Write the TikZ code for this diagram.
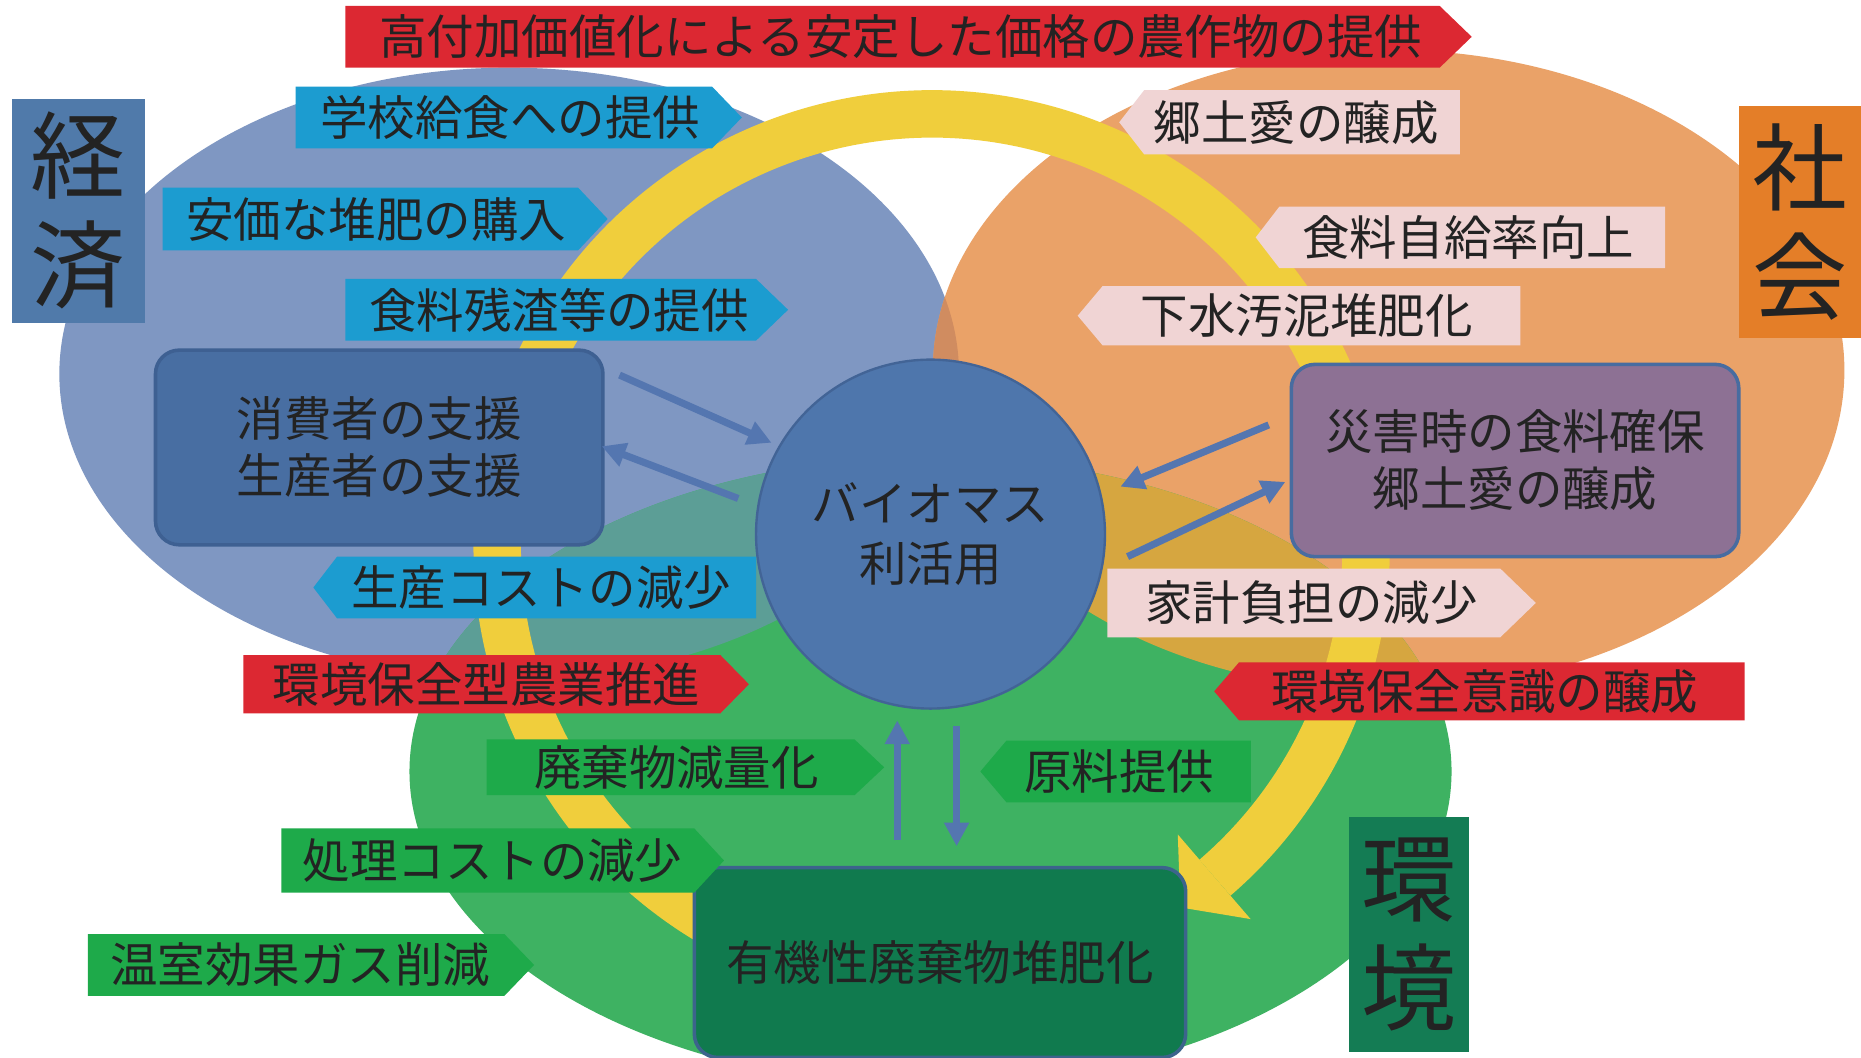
\documentclass[tikz,border=0pt]{standalone}
\usepackage{fontspec}
\setmainfont{Noto Sans CJK JP}
\usetikzlibrary{arrows.meta,calc}
\definecolor{cBlue}{RGB}{127,151,194}
\definecolor{cOrange}{RGB}{234,162,104}
\definecolor{cGreen}{RGB}{62,178,98}
\definecolor{cTeal}{RGB}{92,158,150}
\definecolor{cOchre}{RGB}{214,166,64}
\definecolor{cBO}{RGB}{208,140,96}
\definecolor{cYellow}{RGB}{240,206,60}
\definecolor{cCirc}{RGB}{78,118,172}
\definecolor{cCircB}{RGB}{66,100,150}
\definecolor{cCons}{RGB}{72,110,162}
\definecolor{cConsB}{RGB}{62,96,146}
\definecolor{cSai}{RGB}{141,113,148}
\definecolor{cSaiB}{RGB}{72,108,160}
\definecolor{cYuki}{RGB}{16,122,78}
\definecolor{cYukiB}{RGB}{60,100,140}
\definecolor{cLabE}{RGB}{80,122,170}
\definecolor{cLabS}{RGB}{228,126,40}
\definecolor{cLabK}{RGB}{20,124,84}
\definecolor{bBlue}{RGB}{28,156,208}
\definecolor{bRed}{RGB}{220,40,50}
\definecolor{bPink}{RGB}{240,212,212}
\definecolor{bGreen}{RGB}{30,170,74}
\definecolor{cArr}{RGB}{84,118,176}
\definecolor{txt}{RGB}{35,35,35}
\tikzset{
  btext/.style={font=\fontsize{20}{24}\selectfont, text=txt, inner sep=0pt},
  rbox/.style={rounded corners=10pt, line width=1.5pt, inner sep=0pt, align=center,
    font=\fontsize{20}{24}\selectfont, text=txt},
  biglab/.style={inner sep=0pt, align=center, font=\fontsize{40}{46}\selectfont, text=txt},
  conn/.style={draw=cArr, line width=3pt, -{Triangle[length=10pt,width=10pt]}}
}
\newcommand\bnR[9]{%
  \fill[#7] (#2,#5) -- (#3,#5) -- (#4,{(#5+#6)/2}) -- (#3,#6) -- (#2,#6) -- cycle;
  \node[btext] (#1) at (#8,{(#5+#6)/2}) {#9};}
\newcommand\bnL[9]{%
  \fill[#7] (#4,{(#5+#6)/2}) -- (#2,#5) -- (#3,#5) -- (#3,#6) -- (#2,#6) -- cycle;
  \node[btext] (#1) at (#8,{(#5+#6)/2}) {#9};}
\begin{document}
\begin{tikzpicture}[x=0.5pt,y=-0.5pt]
\useasboundingbox (0,0) rectangle (1568,891);
\fill[white] (0,0) rectangle (1568,891);
% --- ellipses ---
\def\ElB{(429,315) ellipse [x radius=379, y radius=258]}
\def\ElO{(1170,312) ellipse [x radius=384, y radius=270]}
\def\ElG{(784,650) ellipse [x radius=439, y radius=265]}
\fill[cBlue] \ElB;
\fill[cOrange] \ElO;
\begin{scope}\clip \ElB; \fill[cBO] \ElO; \end{scope}
\fill[cGreen] \ElG;
\begin{scope}\clip \ElB; \fill[cTeal] \ElG; \end{scope}
\begin{scope}\clip \ElO; \fill[cOchre] \ElG; \end{scope}
% --- yellow ring arrow ---
\coordinate (rc) at (785,462);
\draw[cYellow, line width=20pt] ($(rc)+(118:366)$) arc[start angle=118, end angle=409.3, radius=366];
\fill[cYellow] ($(rc)+(49.3:412)$) -- ($(rc)+(55.3:368)$) -- ($(rc)+(49.3:318)$) -- cycle;
% --- central circle ---
\node[circle, fill=cCirc, draw=cCircB, line width=1pt, minimum size=147pt, inner sep=0pt,
  align=center, font=\fontsize{20}{25}\selectfont, text=txt] (bio) at (784,450) {バイオマス\\利活用};
% --- rounded boxes ---
\node[rbox, fill=cCons, draw=cConsB, minimum width=188.5pt, minimum height=82pt] (cons) at (319.5,377) {消費者の支援\\生産者の支援};
\node[rbox, fill=cSai, draw=cSaiB, minimum width=188.5pt, minimum height=81pt] (sai) at (1276.5,388) {災害時の食料確保\\郷土愛の醸成};
\node[rbox, fill=cYuki, draw=cYukiB, minimum width=207pt, minimum height=80pt] (yuki) at (792,811) {有機性廃棄物堆肥化};
% --- banners ---
\bnR{b1}{291}{1213}{1240}{5}{57}{bRed}{759}{高付加価値化による安定した価格の農作物の提供}
\bnR{b2}{249}{600}{625}{73}{125}{bBlue}{430}{学校給食への提供}
\bnR{b3}{137}{487}{512}{158}{211}{bBlue}{317}{安価な堆肥の購入}
\bnR{b4}{291}{637}{664}{235}{287}{bBlue}{471}{食料残渣等の提供}
\bnL{b5}{284}{637}{264}{469}{521}{bBlue}{456}{生産コストの減少}
\bnL{p1}{964}{1230}{943}{76}{130}{bPink}{1092}{郷土愛の醸成}
\bnL{p2}{1078}{1403}{1058}{174}{226}{bPink}{1237}{食料自給率向上}
\bnL{p3}{929}{1281}{908}{241}{291}{bPink}{1101}{下水汚泥堆肥化}
\bnR{p4}{933}{1264}{1294}{479}{537}{bPink}{1105}{家計負担の減少}
\bnR{r1}{205}{607}{631}{552}{601}{bRed}{410}{環境保全型農業推進}
\bnL{r2}{1044}{1470}{1023}{558}{607}{bRed}{1251}{環境保全意識の醸成}
\bnR{g1}{410}{720}{745}{623}{670}{bGreen}{570}{廃棄物減量化}
\bnL{g2}{848}{1054}{826}{624}{676}{bGreen}{943}{原料提供}
\bnR{g3}{237}{585}{610}{698}{752}{bGreen}{415}{処理コストの減少}
\bnR{g4}{74}{425}{450}{787}{839}{bGreen}{253}{温室効果ガス削減}
% --- category labels ---
\node[biglab, fill=cLabE, minimum width=56pt, minimum height=94.5pt] (keizai) at (66,177.5) {経\\済};
\node[biglab, fill=cLabS, minimum width=51.5pt, minimum height=98pt] (shakai) at (1516.5,187) {社\\会};
\node[biglab, fill=cLabK, minimum width=50.5pt, minimum height=99pt] (kankyo) at (1187.5,787) {環\\境};
% --- small arrows ---
\coordinate (a1s) at (522,316); \coordinate (a1e) at (650,373);
\coordinate (a2s) at (622,420); \coordinate (a2e) at (507,376);
\coordinate (a3s) at (1069,358); \coordinate (a3e) at (944,410);
\coordinate (a4s) at (950,469); \coordinate (a4e) at (1083,406);
\coordinate (a5s) at (756,708); \coordinate (a5e) at (756,607);
\coordinate (a6s) at (806,612); \coordinate (a6e) at (806,713);
\draw[conn] (a1s) -- (a1e);
\draw[conn] (a2s) -- (a2e);
\draw[conn] (a3s) -- (a3e);
\draw[conn] (a4s) -- (a4e);
\draw[conn] (a5s) -- (a5e);
\draw[conn] (a6s) -- (a6e);
\end{tikzpicture}
\end{document}
